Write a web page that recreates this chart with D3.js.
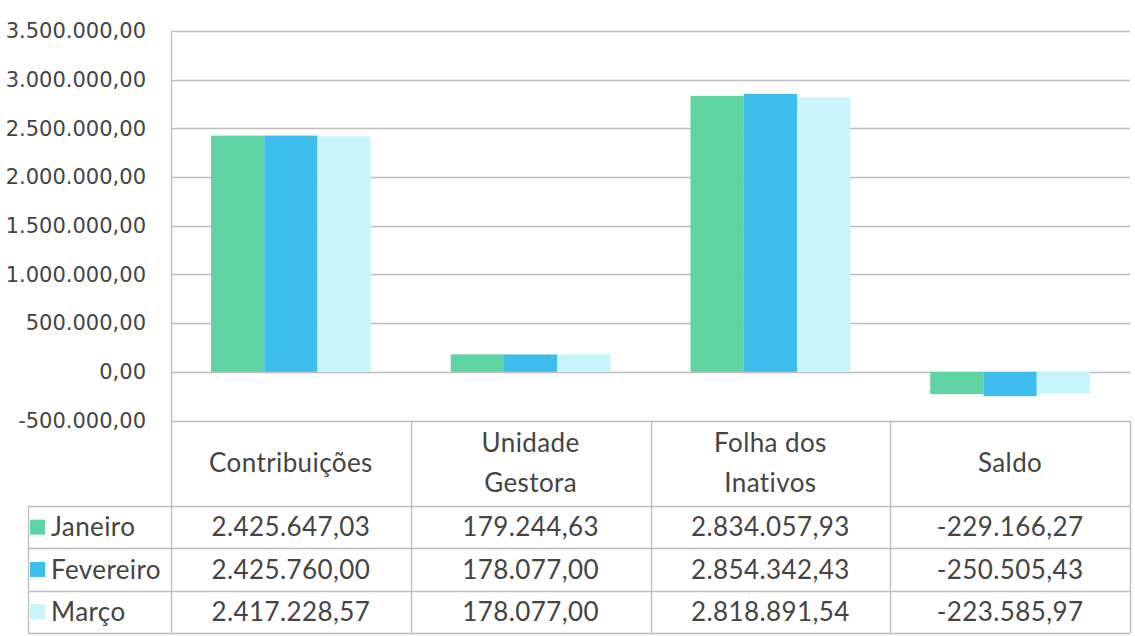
<!DOCTYPE html>
<html>
<head>
<meta charset="utf-8">
<script src="https://cdn.jsdelivr.net/npm/d3@7"></script>
<style>
  body { margin: 0; background: #fff; }
  svg { display: block; }
</style>
</head>
<body>
<svg id="chart" width="1135" height="636"></svg>
<script>
// data
const categories = [["Contribuições"], ["Unidade", "Gestora"], ["Folha dos", "Inativos"], ["Saldo"]]
const series = ["Janeiro", "Fevereiro", "Março"]
const colors = ["#5fd3a1", "#3dbdec", "#c8f5f9"]
const janeiro = [2425647.03, 179244.63, 2834057.93, -229166.27]
const fevereiro = [2425760.00, 178077.00, 2854342.43, -250505.43]
const marco = [2417228.57, 178077.00, 2818891.54, -223585.97]
const yTicks = [-500000, 0, 500000, 1000000, 1500000, 2000000, 2500000, 3000000, 3500000]

const values = [janeiro, fevereiro, marco]
const catKeys = categories.map(c => c.join(" "))

const br = d3.formatLocale({decimal: ",", thousands: ".", grouping: [3], currency: ["R$", ""], minus: "-"})
const fmt = br.format(",.2f")

const plotLeft = 171, plotRight = 1130, plotTop = 31, plotBottom = 420.5
const headerBottom = 506, rowH = 42.3
const legendLeft = 28

const svg = d3.select("#chart")

let y = d3.scaleLinear()
    .domain([-500000, 3500000])
    .range([plotBottom, plotTop])
let x0 = d3.scaleBand()//one column per category
    .domain(catKeys)
    .range([plotLeft, plotRight])
let x1 = d3.scaleBand()//bars inside a column
    .domain(series)
    .range([x0.bandwidth() / 6, x0.bandwidth() * 5 / 6])

// gridlines
svg.append("g")
  .selectAll("line")
  .data(yTicks)
  .enter().append("line")
    .attr("x1", plotLeft).attr("x2", plotRight)
    .attr("y1", d => Math.round(y(d)) + 0.5)
    .attr("y2", d => Math.round(y(d)) + 0.5)
    .attr("stroke", "#bdbdbd")
    .attr("stroke-width", 1.3)

// y axis labels
let yAxis = d3.axisLeft(y).tickValues(yTicks).tickFormat(fmt).tickSize(0).tickPadding(25)
let yg = svg.append("g")
    .attr("transform", "translate(" + plotLeft + ",0)")
    .call(yAxis)
yg.select(".domain").remove()
yg.selectAll("text")
    .style("font-family", "'DejaVu Sans', sans-serif")
    .style("font-size", "21px")
    .attr("fill", "#444")

// bars
let groups = svg.append("g")
  .selectAll("g")
  .data(catKeys)
  .enter().append("g")
    .attr("transform", d => "translate(" + x0(d) + ",0)")
groups.selectAll("rect")
  .data((d, i) => series.map((s, j) => ({s: s, v: values[j][i], c: colors[j]})))
  .enter().append("rect")
    .attr("x", d => x1(d.s))
    .attr("width", x1.bandwidth())
    .attr("y", d => y(Math.max(0, d.v)))
    .attr("height", d => Math.abs(y(d.v) - y(0)))
    .attr("fill", d => d.c)

// data table
const lineColor = "#bdbdbd"
let table = svg.append("g")
const rowTops = series.map((s, i) => headerBottom + i * rowH)
const tableBottom = headerBottom + series.length * rowH

// vertical lines
table.append("line")
    .attr("x1", plotLeft + 0.5).attr("x2", plotLeft + 0.5)
    .attr("y1", plotTop).attr("y2", tableBottom)
    .attr("stroke", lineColor).attr("stroke-width", 1.3)
catKeys.forEach(k => {
  let xe = Math.round(x0(k) + x0.bandwidth()) + 0.5
  table.append("line")
      .attr("x1", xe).attr("x2", xe)
      .attr("y1", plotBottom).attr("y2", tableBottom)
      .attr("stroke", lineColor).attr("stroke-width", 1.3)
})
table.append("line")
    .attr("x1", legendLeft + 0.5).attr("x2", legendLeft + 0.5)
    .attr("y1", headerBottom).attr("y2", tableBottom)
    .attr("stroke", lineColor).attr("stroke-width", 1.3)
// horizontal lines
rowTops.concat([tableBottom]).forEach(ry => {
  table.append("line")
      .attr("x1", legendLeft).attr("x2", plotRight)
      .attr("y1", Math.round(ry) + 0.5).attr("y2", Math.round(ry) + 0.5)
      .attr("stroke", lineColor).attr("stroke-width", 1.3)
})

const tableFont = "Lato, 'Liberation Sans', sans-serif"
const tableSize = "26px"
// header
categories.forEach((lines, i) => {
  let cx = x0(catKeys[i]) + x0.bandwidth() / 2
  let cy = (plotBottom + headerBottom) / 2
  let t = table.append("text")
      .attr("x", cx)
      .attr("text-anchor", "middle")
      .style("font-family", tableFont)
      .style("font-size", tableSize)
      .style("letter-spacing", "0.4px")
      .attr("fill", "#444")
  lines.forEach((ln, j) => {
    t.append("tspan")
        .attr("x", cx)
        .attr("y", cy + (j - (lines.length - 1) / 2) * 40)
        .attr("dy", "0.35em")
        .text(ln)
  })
})

// rows
series.forEach((s, j) => {
  let cy = rowTops[j] + rowH / 2
  table.append("rect")
      .attr("x", legendLeft + 2).attr("y", cy - 7.5)
      .attr("width", 15).attr("height", 15)
      .attr("fill", colors[j])
  table.append("text")
      .attr("x", legendLeft + 23).attr("y", cy).attr("dy", "0.35em")
      .style("font-family", tableFont)
      .style("font-size", tableSize)
      .style("letter-spacing", "0.4px")
      .attr("fill", "#444")
      .text(s)
  values[j].forEach((v, i) => {
    table.append("text")
        .attr("x", x0(catKeys[i]) + x0.bandwidth() / 2)
        .attr("y", cy).attr("dy", "0.35em")
        .attr("text-anchor", "middle")
        .style("font-family", tableFont)
        .style("font-size", tableSize)
        .style("letter-spacing", "0.4px")
        .attr("fill", "#444")
        .text(fmt(v))
  })
})
</script>
</body>
</html>
